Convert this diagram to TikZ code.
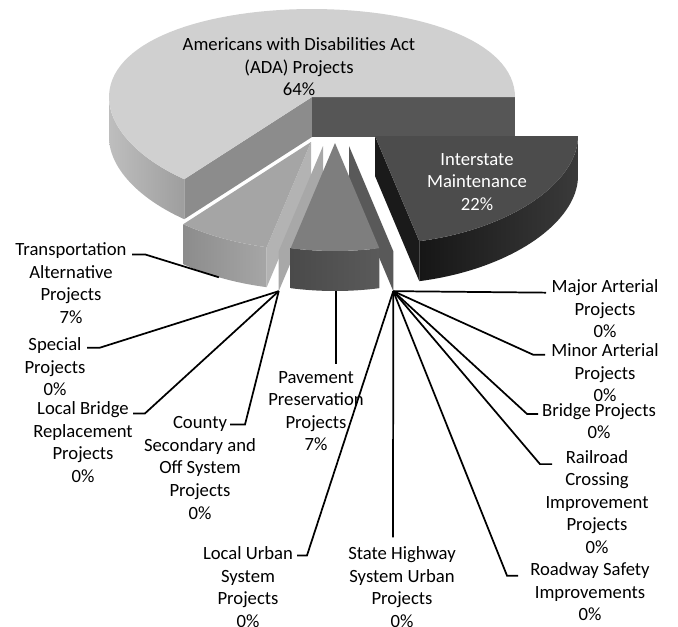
\documentclass[tikz,border=0pt]{standalone}
\usepackage{fontspec}
\setmainfont{Carlito}
\definecolor{adatop}{HTML}{D0D0D0}
\definecolor{adaface}{HTML}{8C8C8C}
\definecolor{adaedge}{HTML}{565656}
\definecolor{adawallL}{HTML}{BEBEBE}
\definecolor{adawallR}{HTML}{9E9E9E}
\definecolor{inttop}{HTML}{4C4C4C}
\definecolor{intface}{HTML}{1A1A1A}
\definecolor{intwallL}{HTML}{161616}
\definecolor{intwallR}{HTML}{3A3A3A}
\definecolor{tratop}{HTML}{A5A5A5}
\definecolor{traface}{HTML}{B3B3B3}
\definecolor{trawallL}{HTML}{8C8C8C}
\definecolor{trawallR}{HTML}{A6A6A6}
\definecolor{pavtop}{HTML}{7E7E7E}
\definecolor{pavwallL}{HTML}{4A4A4A}
\definecolor{pavwallR}{HTML}{5A5A5A}
\definecolor{zeroL}{HTML}{A8A8A8}
\definecolor{zeroR}{HTML}{595959}

\begin{document}
\begin{tikzpicture}[x=0.75pt,y=-0.75pt,
    declare function={rx(\t)=203*cos(\t); ry(\t)=-(98-10*sin(\t))*sin(\t);},
    lbl/.style={align=center,inner sep=0pt,font=\fontsize{14}{16.9}\selectfont},
    leader/.style={line width=1.3pt}]
    \useasboundingbox (0,0) rectangle (678,626);
    % ADA slice
    \shade[left color=adawallL,right color=adawallR,samples=30] plot[domain=180:231] ({312+rx(\x)},{97+ry(\x)}) -- plot[domain=231:180] ({312+rx(\x)},{137+ry(\x)}) -- cycle;
    \fill[adaface] (312,97) -- ({312+rx(231)},{97+ry(231)}) -- ({312+rx(231)},{137+ry(231)}) -- (312,137) -- cycle;
    \fill[adaedge] (312,97) rectangle ({312+rx(0)},137);
    \fill[adatop,samples=80] (312,97) -- plot[domain=0:231] ({312+rx(\x)},{97+ry(\x)}) -- cycle;
    % Interstate slice
    \shade[left color=intwallL,right color=intwallR,samples=40] plot[domain=282.6:360] ({375+rx(\x)},{136+ry(\x)}) -- plot[domain=360:282.6] ({375+rx(\x)},{176+ry(\x)}) -- cycle;
    \fill[intface] (375,136) -- ({375+rx(282.6)},{136+ry(282.6)}) -- ({375+rx(282.6)},{176+ry(282.6)}) -- (375,176) -- cycle;
    \fill[inttop,samples=40] (375,136) -- plot[domain=282.6:360] ({375+rx(\x)},{136+ry(\x)}) -- cycle;
    % zero slices, right group
    \fill[zeroR] (349,146) -- ({349+rx(282.6)},{146+ry(282.6)}) -- ({349+rx(282.6)},{186+ry(282.6)}) -- (349,186) -- cycle;
    % Transportation slice
    \shade[left color=trawallL,right color=trawallR,samples=20] plot[domain=231:257.4] ({311+rx(\x)},{142+ry(\x)}) -- plot[domain=257.4:231] ({311+rx(\x)},{182+ry(\x)}) -- cycle;
    \fill[traface] (311,142) -- ({311+rx(257.4)},{142+ry(257.4)}) -- ({311+rx(257.4)},{182+ry(257.4)}) -- (311,182) -- cycle;
    \fill[tratop,samples=20] (311,142) -- plot[domain=231:257.4] ({311+rx(\x)},{142+ry(\x)}) -- cycle;
    % zero slices, left group
    \fill[zeroL] (323,146) -- ({323+rx(257.4)},{146+ry(257.4)}) -- ({323+rx(257.4)},{186+ry(257.4)}) -- (323,186) -- cycle;
    % Pavement slice
    \shade[left color=pavwallL,right color=pavwallR,samples=20] plot[domain=257.4:282.6] ({335+rx(\x)},{143+ry(\x)}) -- plot[domain=282.6:257.4] ({335+rx(\x)},{183+ry(\x)}) -- cycle;
    \fill[pavtop,samples=20] (335,143) -- plot[domain=257.4:282.6] ({335+rx(\x)},{143+ry(\x)}) -- cycle;

    \coordinate (zl) at ({323+rx(257.4)},{186+ry(257.4)});
    \coordinate (zr) at ({349+rx(282.6)},{186+ry(282.6)});
    \coordinate (tt) at ({311+rx(243)},{182+ry(243)});
    \coordinate (pv) at (336,{183+ry(268)});

    % labels
    \node[lbl] (adp) at (299,67) {Americans with Disabilities Act\\(ADA) Projects\\64\%};
    \node[lbl,text=white] (imp) at (477,182) {Interstate\\Maintenance\\22\%};
    \node[lbl] (tap) at (71,283) {Transportation\\Alternative\\Projects\\7\%};
    \node[lbl] (spp) at (55,367) {Special\\Projects\\0\%};
    \node[lbl] (lbp) at (83,442) {Local Bridge\\Replacement\\Projects\\0\%};
    \node[lbl] (csp) at (200,468) {County\\Secondary and\\Off System\\Projects\\0\%};
    \node[lbl] (ppp) at (316,411) {Pavement\\Preservation\\Projects\\7\%};
    \node[lbl] (lup) at (248,587) {Local Urban\\System\\Projects\\0\%};
    \node[lbl] (shp) at (402,587) {State Highway\\System Urban\\Projects\\0\%};
    \node[lbl] (rsp) at (590,592) {Roadway Safety\\Improvements\\0\%};
    \node[lbl] (rcp) at (597,502) {Railroad\\Crossing\\Improvement\\Projects\\0\%};
    \node[lbl] (bpp) at (599,421) {Bridge Projects\\0\%};
    \node[lbl] (mnp) at (605,373) {Minor Arterial\\Projects\\0\%};
    \node[lbl] (mjp) at (605,309) {Major Arterial\\Projects\\0\%};

    % leader lines
    \draw[leader] (tap.north) ++(61,12) -- ++(13,0) -- (tt);
    \draw[leader] (spp.north) ++(32,10) -- ++(13,0) -- (zl);
    \draw[leader] (lbp.north) ++(50,12) -- ++(12,0) -- (zl);
    \draw[leader] (csp.north) ++(30,8) -- ++(15,0) -- (zl);
    \draw[leader] (ppp.north) ++(20,-7) -- (pv);
    \draw[leader] (lup.north) ++(49,9) -- ++(10,0) -- (zr);
    \draw[leader] (shp.north) ++(-9,-9) -- (zr);
    \draw[leader] (rsp.north) ++(-72,13) -- ++(-11,0) -- (zr);
    \draw[leader] (rcp.north) ++(-45,14) -- ++(-12,0) -- (zr);
    \draw[leader] (bpp.north) ++(-61,11) -- ++(-11,0) -- (zr);
    \draw[leader] (mnp.north) ++(-60,11) -- ++(-12,0) -- (zr);
    \draw[leader] (mjp.north) ++(-59,13) -- (zr);
\end{tikzpicture}
\end{document}
